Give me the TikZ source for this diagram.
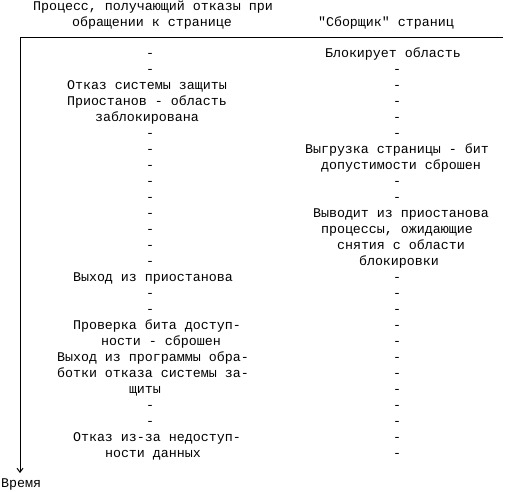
\documentclass[tikz,border=0pt]{standalone}
\usepackage{fontspec}
\setmainfont{Liberation Mono}[Ligatures=TeXOff]
\usetikzlibrary{arrows.meta}
\begin{document}
\begin{tikzpicture}[x=1pt,y=-1pt,
  txt/.style={anchor=base,inner sep=0pt,font=\fontsize{13.33}{16}\selectfont},
  axis/.style={line width=1pt}]
\useasboundingbox (0,0) rectangle (507,491);
\coordinate (corner) at (20,37);
\coordinate (hend) at (503,37);
\coordinate (vend) at (20,473);
\draw[axis] (corner) -- (hend);
\draw[axis,-{Straight Barb[length=4pt,width=6pt]}] (corner) -- (vend);
% headers
\node[txt] (h1) at (153,10) {Процесс, получающий отказы при};
\node[txt] (h2) at (152,26) {обращении к странице};
\node[txt] (h3) at (386,26) {"Сборщик" страниц};
% left column
\node[txt] (l1)  at (150,57)  {-};
\node[txt] (l2)  at (150,73)  {-};
\node[txt] (l3)  at (147,89)  {Отказ системы защиты};
\node[txt] (l4)  at (147,105) {Приостанов - область};
\node[txt] (l5)  at (147,121) {заблокирована};
\node[txt] (l6)  at (150,137) {-};
\node[txt] (l7)  at (150,153) {-};
\node[txt] (l8)  at (150,169) {-};
\node[txt] (l9)  at (150,185) {-};
\node[txt] (l10) at (150,201) {-};
\node[txt] (l11) at (150,217) {-};
\node[txt] (l12) at (150,233) {-};
\node[txt] (l13) at (150,249) {-};
\node[txt] (l14) at (150,265) {-};
\node[txt] (l15) at (153,281) {Выход из приостанова};
\node[txt] (l16) at (150,297) {-};
\node[txt] (l17) at (150,313) {-};
\node[txt] (l18) at (157,329) {Проверка бита доступ-};
\node[txt] (l19) at (161,345) {ности - сброшен};
\node[txt] (l20) at (153,361) {Выход из программы обра-};
\node[txt] (l21) at (153,377) {ботки отказа системы за-};
\node[txt] (l22) at (145,393) {щиты};
\node[txt] (l23) at (150,409) {-};
\node[txt] (l24) at (150,425) {-};
\node[txt] (l25) at (157,441) {Отказ из-за недоступ-};
\node[txt] (l26) at (153,457) {ности данных};
% right column
\node[txt] (r1)  at (393,57)  {Блокирует область};
\node[txt] (r2)  at (397,73)  {-};
\node[txt] (r3)  at (397,89)  {-};
\node[txt] (r4)  at (397,105) {-};
\node[txt] (r5)  at (397,121) {-};
\node[txt] (r6)  at (397,137) {-};
\node[txt] (r7)  at (397,153) {Выгрузка страницы - бит};
\node[txt] (r8)  at (401,169) {допустимости сброшен};
\node[txt] (r9)  at (397,185) {-};
\node[txt] (r10) at (397,201) {-};
\node[txt] (r11) at (401,217) {Выводит из приостанова};
\node[txt] (r12) at (397,233) {процессы, ожидающие};
\node[txt] (r13) at (401,249) {снятия с области};
\node[txt] (r14) at (399,265) {блокировки};
\node[txt] (r15) at (397,281) {-};
\node[txt] (r16) at (397,297) {-};
\node[txt] (r17) at (397,313) {-};
\node[txt] (r18) at (397,329) {-};
\node[txt] (r19) at (397,345) {-};
\node[txt] (r20) at (397,361) {-};
\node[txt] (r21) at (397,377) {-};
\node[txt] (r22) at (397,393) {-};
\node[txt] (r23) at (397,409) {-};
\node[txt] (r24) at (397,425) {-};
\node[txt] (r25) at (397,441) {-};
\node[txt] (r26) at (397,457) {-};
% time label
\node[txt,anchor=base west] (time) at (1,487) {Время};
\end{tikzpicture}
\end{document}
